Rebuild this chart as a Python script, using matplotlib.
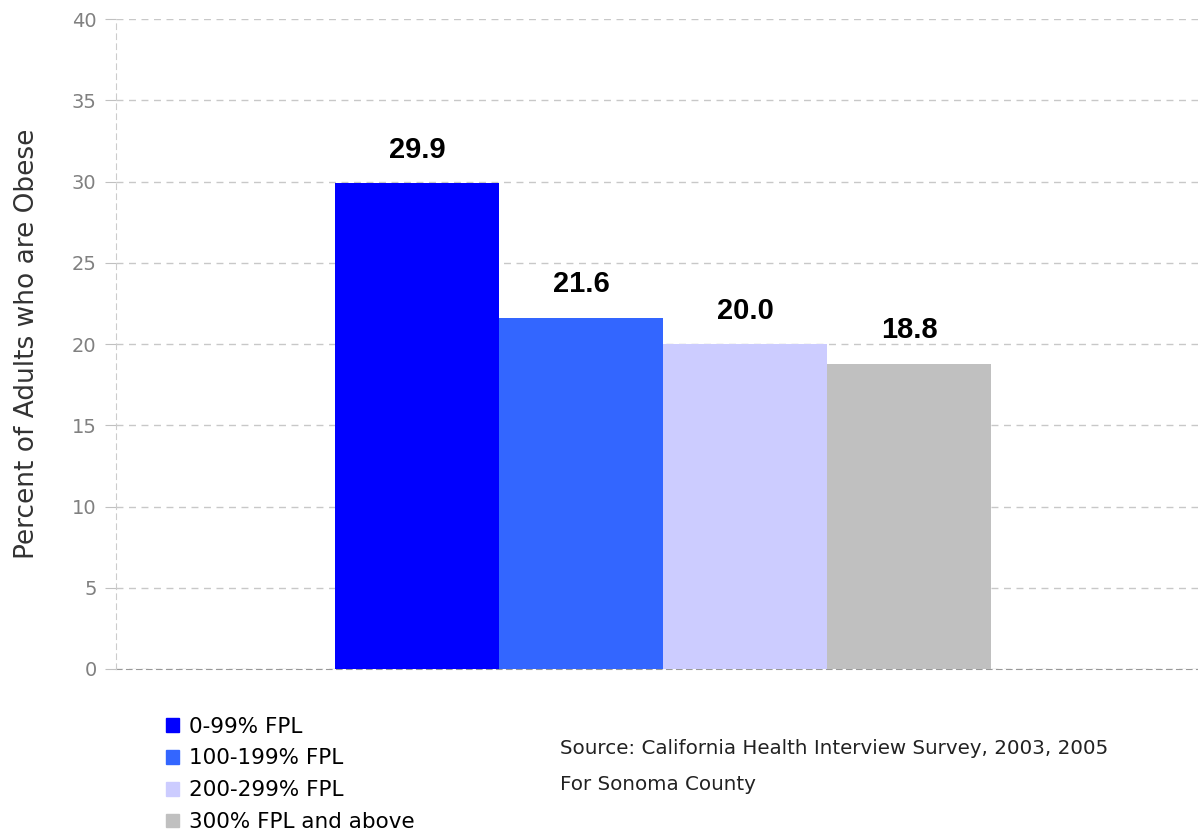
import matplotlib.pyplot as plt
from matplotlib.patches import Patch

categories = ["0-99% FPL", "100-199% FPL", "200-299% FPL", "300% FPL and above"]
values = [29.9, 21.6, 20.0, 18.8]
colors = ["#0000FF", "#3366FF", "#CCCCFF", "#C0C0C0"]
yticks = [0, 5, 10, 15, 20, 25, 30, 35, 40]

plt.rcParams['font.family'] = ['DejaVu Sans']

fig = plt.figure(figsize=(11.98, 8.33), dpi=100)
W, H = 1198, 833
ax = fig.add_axes([116 / W, (H - 669) / H, (W - 116) / W, (669 - 19) / H])

x = list(range(len(values)))
ax.bar(x, values, width=1.0, color=colors, zorder=3)
for xi, v in zip(x, values):
    ax.text(xi, v + 1.2, f"{v:.1f}", ha="center", va="bottom",
            fontsize=21, fontweight="bold", color="black", family="Liberation Sans")

ax.set_xlim(-1.835, 4.76)
ax.set_ylim(0, 40)
ax.set_yticks(yticks)
ax.set_xticks([])
ax.grid(axis="y", color="#c8c8c8", linestyle=(0, (5, 4)), linewidth=1, zorder=0)
for s in ["top", "right"]:
    ax.spines[s].set_visible(False)
ax.spines["left"].set_color("#cccccc")
ax.spines["left"].set_linestyle((0, (5, 4)))
ax.spines["bottom"].set_color("#999999")
ax.spines["bottom"].set_linestyle((0, (5, 4)))
ax.spines["bottom"].set_zorder(1)
ax.tick_params(axis="y", length=8, color="#c0c0c0", labelsize=14,
               labelcolor="#808080", pad=6)
ax.set_ylabel("Percent of Adults who are Obese", fontsize=19, color="#333333")
ax.yaxis.set_label_coords(-0.070, 0.5)

handles = [Patch(facecolor=c, edgecolor=c) for c in colors]
fig.legend(handles, categories, loc="upper left", bbox_to_anchor=(157 / W, 1 - 708 / H),
           frameon=False, handlelength=0.6, handleheight=0.6,
           labelspacing=0.55, handletextpad=0.5, borderaxespad=0,
           prop={"family": "DejaVu Sans", "size": 15.5})

fig.text(560 / W, 1 - 748 / H, "Source: California Health Interview Survey, 2003, 2005",
         fontsize=14.3, va="center", color="#222222")
fig.text(560 / W, 1 - 785 / H, "For Sonoma County", fontsize=14.3, va="center", color="#222222")

fig.savefig("out.png", dpi=100)
